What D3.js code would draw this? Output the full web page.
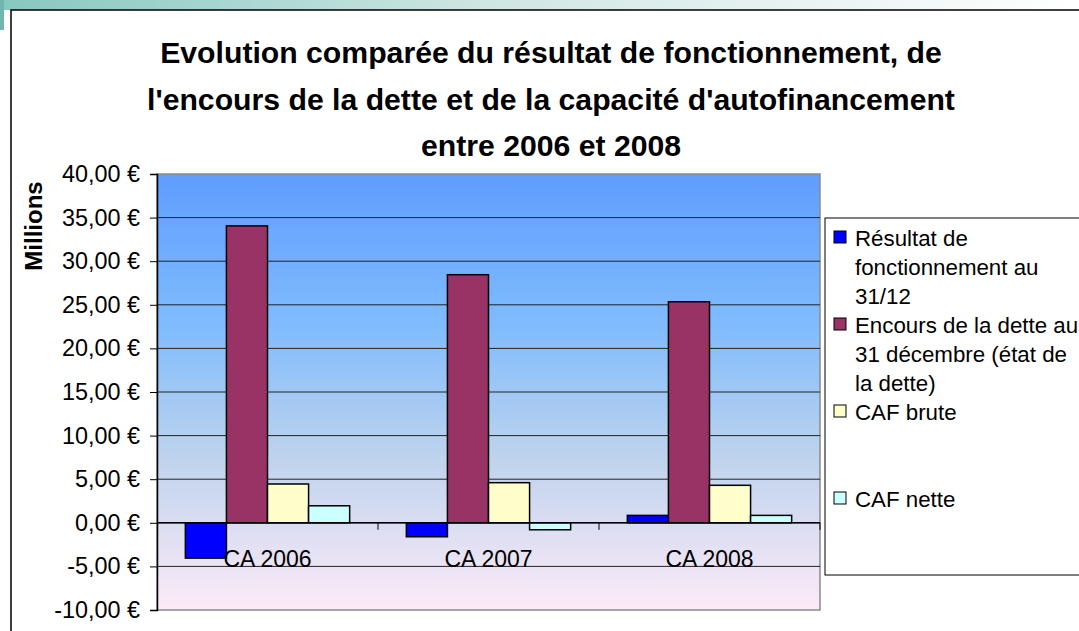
<!DOCTYPE html>
<html>
<head>
<meta charset="utf-8">
<script src="https://cdn.jsdelivr.net/npm/d3@7"></script>
<style>
  html, body { margin: 0; padding: 0; background: #fff; }
  svg { display: block; font-family: Arial, "Liberation Sans", sans-serif; }
</style>
</head>
<body>
<div id="vis"></div>
<script>
// values, in millions of euros
const categories = ["CA 2006", "CA 2007", "CA 2008"];
const seriesNames = [
  ["Résultat de", "fonctionnement au", "31/12"],
  ["Encours de la dette au", "31 décembre (état de", "la dette)"],
  ["CAF brute"],
  ["CAF nette"]
];
const resultat = [-4.05, -1.6, 0.85];
const encours = [34.05, 28.45, 25.35];
const cafBrute = [4.45, 4.6, 4.3];
const cafNette = [1.95, -0.8, 0.85];
const yTicks = [-10, -5, 0, 5, 10, 15, 20, 25, 30, 35, 40];
const titleLines = [
  "Evolution comparée du résultat de fonctionnement, de",
  "l'encours de la dette et de la capacité d'autofinancement",
  "entre 2006 et 2008"
];
const colors = ["#0000ff", "#993366", "#ffffcc", "#ccffff"];

const series = [resultat, encours, cafBrute, cafNette];

const width = 1079, height = 631;
const plot = {left: 157, right: 820, top: 174, bottom: 610};

const svg = d3.select('#vis').append('svg')
  .attr("width", width)
  .attr("height", height);

const defs = svg.append("defs");

// slide strip at the top
const strip = defs.append("linearGradient").attr("id", "strip");
strip.append("stop").attr("offset", "0%").attr("stop-color", "#86c8c0");
strip.append("stop").attr("offset", "45%").attr("stop-color", "#cfe6e3");
strip.append("stop").attr("offset", "100%").attr("stop-color", "#ffffff");
svg.append("rect").attr("x", 0).attr("y", 0).attr("width", width).attr("height", 10)
  .attr("fill", "url(#strip)");
svg.append("rect").attr("x", 0).attr("y", 0).attr("width", 4).attr("height", 30)
  .attr("fill", "#6fb7ad");

// chart frame
svg.append("rect")
  .attr("x", 11).attr("y", 10).attr("width", width + 20).attr("height", height + 20)
  .attr("fill", "#fff").attr("stroke", "#000").attr("stroke-width", 1.5);

// plot background
const bg = defs.append("linearGradient").attr("id", "bg")
  .attr("x1", 0).attr("y1", 0).attr("x2", 0).attr("y2", 1);
bg.append("stop").attr("offset", "0%").attr("stop-color", "#5f9dff");
bg.append("stop").attr("offset", "35%").attr("stop-color", "#80bcfd");
bg.append("stop").attr("offset", "65%").attr("stop-color", "#bed3ed");
bg.append("stop").attr("offset", "100%").attr("stop-color", "#fdebf7");

svg.append("rect")
  .attr("x", plot.left).attr("y", plot.top)
  .attr("width", plot.right - plot.left).attr("height", plot.bottom - plot.top)
  .attr("fill", "url(#bg)").attr("stroke", "#8a8a8a").attr("stroke-width", 1.5);

const y = d3.scaleLinear().domain([-10, 40]).range([plot.bottom, plot.top]);
const x0 = d3.scaleBand().domain(categories).range([plot.left, plot.right]);
const x1 = d3.scaleBand().domain(d3.range(series.length))
  .range([0, x0.bandwidth()]).paddingOuter(0.69);

// gridlines
svg.append("g")
  .selectAll("line")
  .data(yTicks.filter(t => t > -10 && t < 40))
  .enter().append("line")
  .attr("x1", plot.left).attr("x2", plot.right)
  .attr("y1", d => y(d)).attr("y2", d => y(d))
  .attr("stroke", "#222").attr("stroke-width", 1);

// y axis
const fmt = d => d3.format(".2f")(d).replace("−", "-").replace(".", ",") + " €";
const yAxis = svg.append("g")
  .attr("transform", `translate(${plot.left},0)`)
  .call(d3.axisLeft(y).tickValues(yTicks).tickSize(7).tickPadding(10).tickFormat(fmt));
yAxis.select(".domain").attr("stroke", "#000").attr("stroke-width", 1.5);
yAxis.selectAll(".tick line").attr("stroke", "#000");
yAxis.selectAll("text").attr("font-size", 23.4).attr("fill", "#000")
  .attr("font-family", "Arial, 'Liberation Sans', sans-serif");

svg.append("text")
  .attr("transform", `translate(42,226) rotate(-90)`)
  .attr("text-anchor", "middle")
  .attr("font-weight", "bold").attr("font-size", 24)
  .text("Millions");

// bars
const groups = svg.append("g").selectAll("g")
  .data(categories)
  .enter().append("g")
  .attr("transform", d => `translate(${x0(d)},0)`);

groups.selectAll("rect")
  .data((d, i) => series.map((s, k) => ({k: k, v: s[i]})))
  .enter().append("rect")
  .attr("x", d => x1(d.k))
  .attr("width", x1.bandwidth())
  .attr("y", d => y(Math.max(0, d.v)))
  .attr("height", d => Math.abs(y(d.v) - y(0)))
  .attr("fill", d => colors[d.k])
  .attr("stroke", "#000").attr("stroke-width", 1.5);

// x axis at zero
svg.append("line")
  .attr("x1", plot.left).attr("x2", plot.right)
  .attr("y1", y(0)).attr("y2", y(0))
  .attr("stroke", "#000").attr("stroke-width", 1.5);
svg.append("g").selectAll("line")
  .data(categories)
  .enter().append("line")
  .attr("x1", d => x0(d) + x0.bandwidth()).attr("x2", d => x0(d) + x0.bandwidth())
  .attr("y1", y(0)).attr("y2", y(0) + 7)
  .attr("stroke", "#000");

svg.append("g").selectAll("text")
  .data(categories)
  .enter().append("text")
  .attr("x", d => x0(d) + x0.bandwidth() / 2)
  .attr("y", 567)
  .attr("text-anchor", "middle")
  .attr("font-size", 23)
  .text(d => d);

// title
svg.append("g").selectAll("text")
  .data(titleLines)
  .enter().append("text")
  .attr("x", 551)
  .attr("y", (d, i) => 63 + i * 46.5)
  .attr("text-anchor", "middle")
  .attr("font-weight", "bold")
  .attr("font-size", 30.2)
  .text(d => d);

// legend
const legend = svg.append("g");
legend.append("rect")
  .attr("x", 825).attr("y", 218).attr("width", 300).attr("height", 357)
  .attr("fill", "#fff").attr("stroke", "#000").attr("stroke-width", 1);

const item = legend.selectAll("g.item")
  .data(seriesNames)
  .enter().append("g")
  .attr("class", "item")
  .attr("transform", (d, i) => `translate(0,${246 + i * 87})`);

item.append("rect")
  .attr("x", 834).attr("y", -15).attr("width", 12).attr("height", 12)
  .attr("fill", (d, i) => colors[i])
  .attr("stroke", "#000").attr("stroke-width", 1);

item.selectAll("text")
  .data(d => d)
  .enter().append("text")
  .attr("x", 855)
  .attr("y", (d, j) => j * 29)
  .attr("font-size", 22.3)
  .text(d => d);
</script>
</body>
</html>
